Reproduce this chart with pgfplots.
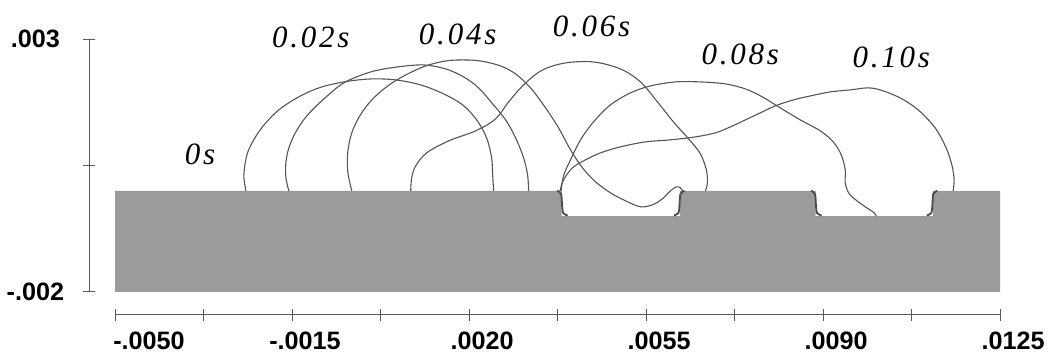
\documentclass[border=0pt]{standalone}
\usepackage{pgfplots}
\pgfplotsset{compat=1.18}
\usepackage{fontspec}
\setmainfont{Liberation Sans}
\newfontfamily\timefont[LetterSpace=9]{Liberation Serif}
\newcommand{\tl}[1]{{\fontsize{12.6}{14}\selectfont\bfseries #1}}
\newcommand{\stamp}[1]{{\timefont\itshape\fontsize{15.5}{17}\selectfont #1}}
\definecolor{substrate}{HTML}{9B9B9B}
\definecolor{rim}{HTML}{4A4A4A}
\definecolor{profile}{HTML}{555555}
\definecolor{axisgray}{HTML}{5A5A5A}

\begin{document}
\begin{tikzpicture}
\begin{axis}[
  x=25.315pt, y=25.3pt,
  xmin=-5, xmax=12.5, ymin=-2, ymax=3,
  axis lines=left,
  axis line style={-, draw=axisgray, line width=0.5pt},
  axis x line shift=11.5pt,
  axis y line shift=12.9pt,
  clip=false,
  tick align=center,
  major tick length=6pt,
  tick style={draw=axisgray, line width=0.5pt},
  xtick={-5,-3.25,-1.5,0.25,2,3.75,5.5,7.25,9,10.75,12.5},
  xticklabels={\tl{\hspace*{21pt}-.0050},,\tl{-.0015},,\tl{.0020},,\tl{.0055},,\tl{.0090},,\tl{.0125}},
  ytick={-2,0.5,3},
  yticklabels={\tl{-.002},,\tl{.003}},
  xticklabel style={xshift=6.5pt, yshift=-2pt},
  yticklabel style={anchor=center, xshift=-24pt},
  profile/.style={draw=profile, line width=0.55pt, smooth, tension=0.55},
]
% full frame of the figure
\path (axis cs:-7.252,-3.182) (axis cs:13.586,3.775);

% grooved substrate
\addplot[fill=substrate, draw=none] coordinates {
  (-5,-2) (-5,0) (3.83,0) (3.83,-0.5) (6.17,-0.5) (6.17,0)
  (8.85,0) (8.85,-0.5) (11.17,-0.5) (11.17,0) (12.5,0) (12.5,-2)} -- cycle;
% shaded groove walls
\addplot[rim, line width=0.9pt, smooth] coordinates {(3.74,0) (3.82,-0.06) (3.84,-0.30) (3.86,-0.44) (3.95,-0.49)};
\addplot[rim, line width=0.9pt, smooth] coordinates {(6.05,-0.49) (6.14,-0.44) (6.16,-0.30) (6.18,-0.06) (6.26,0)};
\addplot[rim, line width=0.9pt, smooth] coordinates {(8.76,0) (8.84,-0.06) (8.86,-0.30) (8.88,-0.44) (8.97,-0.49)};
\addplot[rim, line width=0.9pt, smooth] coordinates {(11.05,-0.49) (11.14,-0.44) (11.16,-0.30) (11.18,-0.06) (11.26,0)};

% droplet profiles, t = 0 s
\addplot[profile] coordinates {
  (-2.413,0) (-2.452,0.257) (-2.432,0.514) (-2.373,0.771) (-2.235,1.047)
  (-2.037,1.324) (-1.761,1.601) (-1.405,1.838) (-0.971,2.036) (-0.477,2.154)
  (0.056,2.213) (0.550,2.194) (1.044,2.095) (1.498,1.917) (1.873,1.700)
  (2.150,1.403) (2.347,1.047) (2.446,0.652) (2.466,0.316) (2.486,0)};
% t = 0.02 s
\addplot[profile] coordinates {
  (-1.563,0) (-1.622,0.257) (-1.622,0.553) (-1.563,0.850) (-1.425,1.166)
  (-1.208,1.482) (-0.892,1.798) (-0.477,2.134) (0.056,2.352) (0.590,2.451)
  (1.103,2.490) (1.538,2.411) (1.893,2.253) (2.189,2.036) (2.466,1.719)
  (2.723,1.403) (2.921,1.047) (3.078,0.652) (3.157,0.316) (3.177,0)};
% t = 0.04 s
\addplot[profile] coordinates {
  (-0.319,0) (-0.398,0.375) (-0.398,0.771) (-0.319,1.146) (-0.161,1.482)
  (0.076,1.798) (0.392,2.075) (0.748,2.293) (1.143,2.470) (1.538,2.569)
  (1.873,2.589) (2.229,2.569) (2.624,2.470) (2.920,2.312) (3.216,2.036)
  (3.513,1.640) (3.770,1.245) (4.006,0.810) (4.243,0.455) (4.500,0.178)
  (4.796,-0.040) (5.093,-0.198) (5.389,-0.316) (5.626,-0.277) (5.824,-0.158)
  (5.982,0) (6.100,0.079) (6.179,0.059) (6.218,0)};
% t = 0.06 s
\addplot[profile] coordinates {
  (0.846,0) (0.866,0.257) (0.945,0.494) (1.162,0.751) (1.597,0.988)
  (2.130,1.186) (2.525,1.423) (2.782,1.759) (3.098,2.115) (3.454,2.391)
  (3.908,2.530) (4.461,2.549) (4.994,2.411) (5.389,2.154) (5.725,1.759)
  (6.041,1.364) (6.357,1.008) (6.574,0.731) (6.692,0.415) (6.712,0.158)
  (6.673,0)};
% t = 0.08 s
\addplot[profile] coordinates {
  (3.820,0) (3.868,0.296) (4.006,0.613) (4.204,1.008) (4.461,1.364)
  (4.796,1.700) (5.191,1.937) (5.587,2.075) (6.080,2.154) (6.574,2.154)
  (7.068,2.115) (7.463,2.016) (7.799,1.858) (8.154,1.640) (8.549,1.403)
  (8.944,1.186) (9.201,0.968) (9.359,0.711) (9.438,0.415) (9.438,0.158)
  (9.517,-0.059) (9.695,-0.217) (9.892,-0.356) (10.011,-0.435) (10.050,-0.5)};
% t = 0.10 s
\addplot[profile] coordinates {
  (3.800,0) (3.868,0.217) (4.046,0.455) (4.303,0.613) (4.599,0.751)
  (4.994,0.870) (5.488,0.968) (5.982,1.008) (6.476,1.067) (6.870,1.146)
  (7.167,1.265) (7.463,1.403) (7.759,1.542) (8.055,1.680) (8.411,1.798)
  (8.747,1.877) (9.142,1.957) (9.537,1.996) (9.873,2.036) (10.129,1.996)
  (10.524,1.838) (10.880,1.601) (11.216,1.245) (11.433,0.850) (11.551,0.494)
  (11.591,0.217) (11.571,0)};

% time stamps
\node[anchor=base] at (axis cs:-3.321,0.514) {\stamp{0s}};
\node[anchor=base] at (axis cs:-1.129,2.826) {\stamp{0.02s}};
\node[anchor=base] at (axis cs:1.775,2.885) {\stamp{0.04s}};
\node[anchor=base] at (axis cs:4.421,3.043) {\stamp{0.06s}};
\node[anchor=base] at (axis cs:7.364,2.490) {\stamp{0.08s}};
\node[anchor=base] at (axis cs:10.347,2.431) {\stamp{0.10s}};
\end{axis}
\end{tikzpicture}
\end{document}
